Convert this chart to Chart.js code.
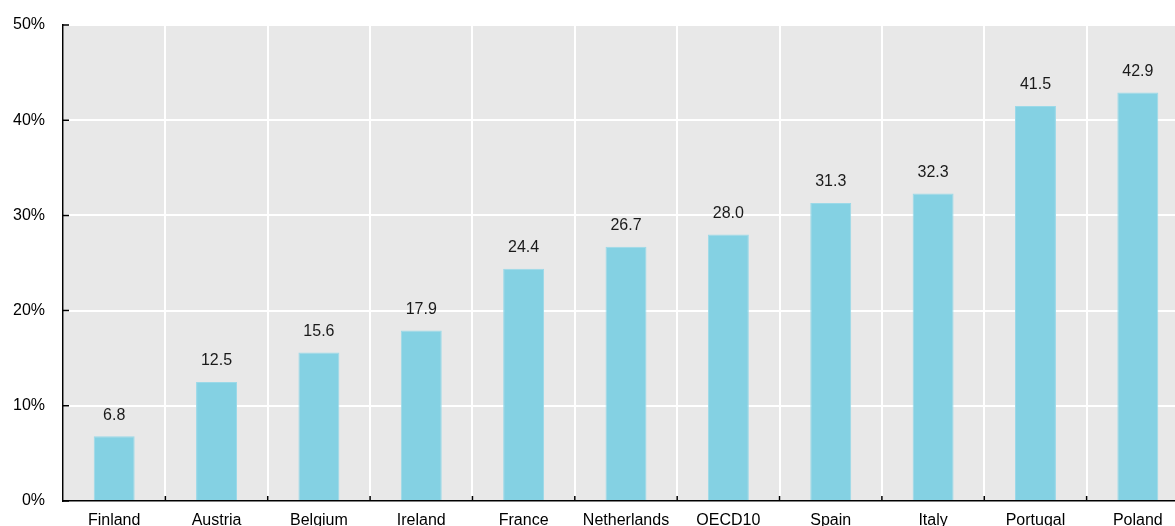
<!DOCTYPE html>
<html>
<head>
<meta charset="utf-8">
<script src="https://cdn.jsdelivr.net/npm/chart.js@4/dist/chart.umd.min.js"></script>
<style>
  html, body { margin: 0; padding: 0; background: #ffffff; overflow: hidden; }
  #wrap { width: 1189px; height: 526px; }
</style>
</head>
<body>
<div id="wrap"><canvas id="shareChart" width="1189" height="526"></canvas></div>
<script>
  'use strict';

  var countries = ['Finland', 'Austria', 'Belgium', 'Ireland', 'France', 'Netherlands',
    'OECD10', 'Spain', 'Italy', 'Portugal', 'Poland'];
  var shares = [6.8, 12.5, 15.6, 17.9, 24.4, 26.7, 28.0, 31.3, 32.3, 41.5, 42.9];
  var yTicks = [0, 10, 20, 30, 40, 50];

  var FONT = 'Arial, "Liberation Sans", sans-serif';

  // grey panel behind the plot
  var panelBg = {
    id: 'panelBg',
    beforeDraw: function (chart) {
      var a = chart.chartArea, ctx = chart.ctx;
      ctx.save();
      ctx.fillStyle = '#e8e8e8';
      ctx.fillRect(a.left, a.top, a.right - a.left, a.bottom - a.top);
      ctx.restore();
    }
  };

  // short inward tick marks on both axes
  var innerTicks = {
    id: 'innerTicks',
    afterDraw: function (chart) {
      var ctx = chart.ctx, x = chart.scales.x, y = chart.scales.y;
      ctx.save();
      ctx.strokeStyle = '#000000';
      ctx.lineWidth = 1.5;
      ctx.beginPath();
      yTicks.forEach(function (v) {
        var py = y.getPixelForValue(v);
        ctx.moveTo(x.left, py);
        ctx.lineTo(x.left + 6, py);
      });
      for (var i = 1; i < countries.length; i++) {
        var px = (x.getPixelForValue(i - 1) + x.getPixelForValue(i)) / 2;
        ctx.moveTo(px, y.bottom);
        ctx.lineTo(px, y.bottom - 5);
      }
      ctx.stroke();
      ctx.restore();
    }
  };

  // value labels above each bar
  var valueLabels = {
    id: 'valueLabels',
    afterDatasetsDraw: function (chart) {
      var ctx = chart.ctx;
      var meta = chart.getDatasetMeta(0);
      ctx.save();
      ctx.fillStyle = '#1a1a1a';
      ctx.font = '16px ' + FONT;
      ctx.textAlign = 'center';
      ctx.textBaseline = 'middle';
      meta.data.forEach(function (bar, i) {
        ctx.fillText(shares[i].toFixed(1), bar.x, bar.y - 21);
      });
      ctx.restore();
    }
  };

  new Chart(document.getElementById('shareChart'), {
    type: 'bar',
    data: {
      labels: countries,
      datasets: [{
        data: shares,
        backgroundColor: '#84d1e3',
        borderColor: '#9bd9e8',
        borderWidth: 1,
        barPercentage: 0.4,
        categoryPercentage: 1
      }]
    },
    options: {
      responsive: false,
      devicePixelRatio: 1,
      animation: false,
      layout: { padding: { top: 25, left: 0, right: 0, bottom: 0 } },
      plugins: { legend: { display: false }, tooltip: { enabled: false } },
      scales: {
        x: {
          offset: true,
          grid: { offset: true, color: '#ffffff', lineWidth: 2, drawTicks: false },
          border: { display: true, color: '#000000', width: 1.5 },
          ticks: {
            color: '#000000', padding: 10, autoSkip: false, maxRotation: 0,
            font: { family: FONT, size: 16 }
          },
          afterFit: function (s) { s.height = 25; s.paddingLeft = 0; s.paddingRight = 0; }
        },
        y: {
          min: 0, max: 50,
          afterBuildTicks: function (s) { s.ticks = yTicks.map(function (v) { return { value: v }; }); },
          grid: { color: '#ffffff', lineWidth: 2, drawTicks: false },
          border: { display: true, color: '#000000', width: 1.5 },
          ticks: {
            color: '#000000', padding: 18, font: { family: FONT, size: 16 },
            callback: function (v) { return v + '%'; }
          },
          afterFit: function (s) { s.width = 63; s.paddingTop = 0; s.paddingBottom = 0; }
        }
      }
    },
    plugins: [panelBg, innerTicks, valueLabels]
  });
</script>
</body>
</html>
